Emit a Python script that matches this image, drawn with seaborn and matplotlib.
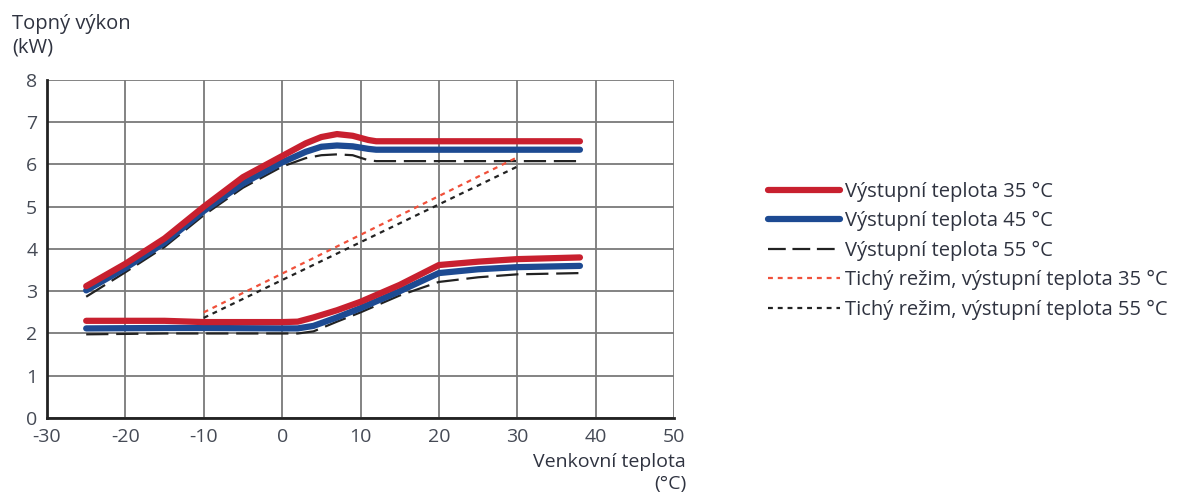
import numpy as np
import matplotlib
matplotlib.use("Agg")
import matplotlib.pyplot as plt
import seaborn as sns
from matplotlib.lines import Line2D

# outdoor temperature (°C) and heating output (kW)
upper_x = [-25, -20, -15, -10, -5, 0, 3, 5, 7, 9, 11, 12, 15, 20, 30, 38]
red_upper = [3.12, 3.65, 4.25, 5.0, 5.7, 6.2, 6.5, 6.65, 6.72, 6.68, 6.58, 6.55, 6.55, 6.55, 6.55, 6.55]
blue_upper = [3.02, 3.55, 4.15, 4.9, 5.55, 6.05, 6.3, 6.42, 6.45, 6.43, 6.37, 6.35, 6.35, 6.35, 6.35, 6.35]
black_upper = [2.87, 3.45, 4.05, 4.8, 5.45, 5.95, 6.15, 6.22, 6.24, 6.22, 6.1, 6.08, 6.08, 6.08, 6.08, 6.08]

lower_x = [-25, -15, -10, 0, 2, 4, 7, 10, 15, 20, 25, 30, 38]
red_lower = [2.3, 2.3, 2.27, 2.27, 2.28, 2.38, 2.55, 2.75, 3.15, 3.62, 3.7, 3.76, 3.8]
blue_lower = [2.12, 2.13, 2.13, 2.12, 2.12, 2.18, 2.38, 2.6, 3.0, 3.43, 3.52, 3.57, 3.6]
black_lower = [1.98, 2.0, 2.0, 2.0, 2.0, 2.05, 2.28, 2.5, 2.9, 3.22, 3.33, 3.4, 3.43]

quiet_x = [-10, 30]
quiet_35 = [2.5, 6.17]
quiet_55 = [2.37, 5.95]

labels = [
    "Výstupní teplota 35 °C",
    "Výstupní teplota 45 °C",
    "Výstupní teplota 55 °C",
    "Tichý režim, výstupní teplota 35 °C",
    "Tichý režim, výstupní teplota 55 °C",
]

sns.set_style("white")
plt.rcParams["font.family"] = ["Open Sans", "DejaVu Sans"]
plt.rcParams["axes.unicode_minus"] = False
text_col = "#2f3340"

fig = plt.figure(figsize=(11.81, 4.96), dpi=100)
ax = fig.add_axes([0.0398, 0.1573, 0.5309, 0.6814])

red = "#c8202f"
blue = "#1d4a92"
dark = "#222222"
orange = "#f0503a"

thick = dict(linewidth=4.5, solid_capstyle="round")
dash = dict(linewidth=1.6, dashes=(10, 3.5))
dot = dict(linewidth=1.6, dashes=(2.2, 2.2))

for ys, c, kw in [(black_upper, dark, dash), (blue_upper, blue, thick), (red_upper, red, thick)]:
    sns.lineplot(x=upper_x, y=ys, ax=ax, color=c, sort=False, **kw)
for ys, c, kw in [(black_lower, dark, dash), (blue_lower, blue, thick), (red_lower, red, thick)]:
    sns.lineplot(x=lower_x, y=ys, ax=ax, color=c, sort=False, **kw)
sns.lineplot(x=quiet_x, y=quiet_55, ax=ax, color=dark, sort=False, **dot)
sns.lineplot(x=quiet_x, y=quiet_35, ax=ax, color=orange, sort=False, **dot)

ax.set_xlim(-30, 50)
ax.set_ylim(0, 8)
ax.set_xticks(range(-30, 51, 10))
ax.set_yticks(range(0, 9))
ax.grid(True, color="#7a7a7a", linewidth=1.3)
ax.set_axisbelow(True)
for s in ["top", "right"]:
    ax.spines[s].set_visible(False)
for s in ["left", "bottom"]:
    ax.spines[s].set_color("#222222")
    ax.spines[s].set_linewidth(2)
ax.tick_params(axis="both", direction="out", length=5, width=1.2, color="#555555",
               labelsize=14, labelcolor="#454a55", pad=2)
ax.set_xlabel("")
ax.set_ylabel("")

fig.text(0.010, 0.972, "Topný výkon\n(kW)", ha="left", va="top", fontsize=14.5,
         color=text_col, linespacing=1.25)
fig.text(0.581, 0.086, "Venkovní teplota\n(°C)", ha="right", va="top", fontsize=14,
         color=text_col, linespacing=1.25, multialignment="right")

handles = [
    Line2D([], [], color=red, **thick),
    Line2D([], [], color=blue, **thick),
    Line2D([], [], color=dark, linewidth=1.6, dashes=(8, 3)),
    Line2D([], [], color=orange, **dot),
    Line2D([], [], color=dark, **dot),
]
fig.legend(handles, labels, loc="upper left", bbox_to_anchor=(0.650, 0.633),
           frameon=False, fontsize=14.5, handlelength=3.6, handletextpad=0.25,
           labelspacing=0.46, labelcolor=text_col, borderaxespad=0, borderpad=0)

fig.savefig("out.png", dpi=100)
